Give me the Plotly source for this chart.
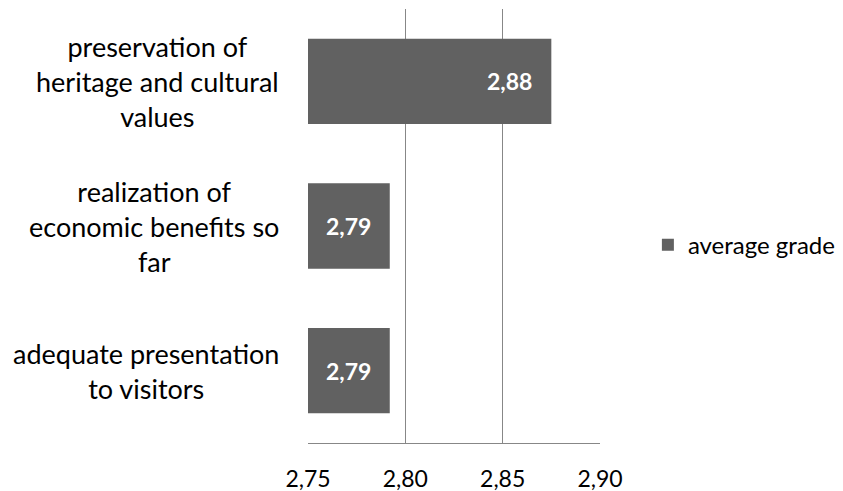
import plotly.graph_objects as go

# Survey results: average grade per aspect (top to bottom)
category_lines = [
    ["preservation of", "heritage and cultural", "values"],
    ["realization of", "economic benefits so", "far"],
    ["adequate presentation", "to visitors"],
]
categories = [" ".join(lines) for lines in category_lines]
average_grade = [2.875, 2.792, 2.792]
x_ticks = [2.75, 2.80, 2.85, 2.90]
series_name = "average grade"

FONT = "Lato"
BAR_COLOR = "#616161"
GRID_COLOR = "#878787"
AXIS_MIN = x_ticks[0]

fig = go.Figure()
fig.add_trace(go.Bar(
    x=[v - AXIS_MIN for v in average_grade],
    y=categories,
    base=AXIS_MIN,
    orientation="h",
    name=series_name,
    marker=dict(color=BAR_COLOR, line=dict(width=0)),
    showlegend=True,
    hoverinfo="skip",
))

annotations = []
# value labels inside the bar ends
for cat, v in zip(categories, average_grade):
    annotations.append(dict(
        x=v, y=cat, xref="x", yref="y",
        text="<b>" + f"{v:.2f}".replace(".", ",") + "</b>",
        showarrow=False, xanchor="right", xshift=-17,
        font=dict(family=FONT, size=23, color="white"),
    ))
# multi-line, centred category labels to the left of the axis
for cat, lines in zip(categories, category_lines):
    annotations.append(dict(
        x=0, y=cat, xref="paper", yref="y",
        text="<br>".join(lines), showarrow=False,
        xanchor="right", yanchor="middle", xshift=-27,
        align="center",
        font=dict(family=FONT, size=27, color="black"),
    ))

fig.update_layout(
    width=843, height=491,
    margin=dict(l=308, r=243, t=9, b=48, autoexpand=False),
    paper_bgcolor="white", plot_bgcolor="white",
    separators=", ",
    bargap=0.41,
    font=dict(family=FONT, size=23, color="black"),
    legend=dict(
        x=1.164, y=0.456, xanchor="left", yanchor="middle",
        font=dict(family=FONT, size=24, color="black"),
        bgcolor="rgba(0,0,0,0)",
    ),
    annotations=annotations,
)
fig.update_xaxes(
    range=[x_ticks[0], x_ticks[-1]],
    tickvals=x_ticks, tickformat=".2f",
    showgrid=True, gridcolor=GRID_COLOR, gridwidth=1,
    showline=True, linecolor=GRID_COLOR, linewidth=1,
    zeroline=False, ticks="", ticklen=0,
    ticklabelstandoff=15,
    tickfont=dict(family=FONT, size=23, color="black"),
    fixedrange=True,
)
fig.update_yaxes(
    categoryorder="array", categoryarray=categories,
    autorange="reversed",
    showticklabels=False, showgrid=False,
    showline=False, zeroline=False, ticks="",
    fixedrange=True,
)

fig.write_html("out.html")
